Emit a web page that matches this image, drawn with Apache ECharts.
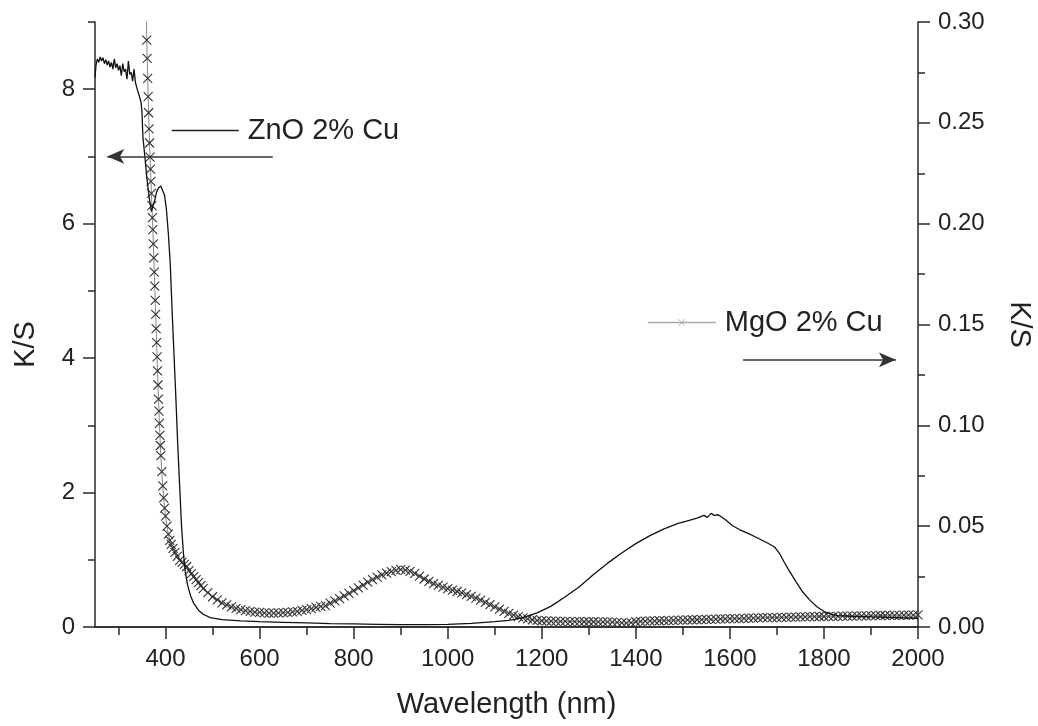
<!DOCTYPE html>
<html>
<head>
<meta charset="utf-8">
<script src="https://cdn.jsdelivr.net/npm/echarts@6.0.0/dist/echarts.min.js"></script>
<style>
  html, body { margin: 0; padding: 0; background: #ffffff; }
  #chart { width: 1038px; height: 726px; }
</style>
</head>
<body>
<div id="chart"></div>
<script>
// ---------- data ----------
const znoName = 'ZnO 2% Cu';
const mgoName = 'MgO 2% Cu';

const znoWavelength = [250,252,255,258,261,264,267,270,273,276,279,282,285,288,291,294,297,300,303,306,309,312,315,318,321,324,327,330,333,336,339,342,345,348,350,351,352,356,360,365,370,373,377,381,385,390,394,398,402,406,410,414,418,422,426,430,434,438,442,447,453,460,470,480,495,520,560,600,650,700,750,800,850,900,950,1000,1050,1100,1130,1160,1190,1220,1250,1280,1310,1340,1370,1400,1430,1460,1490,1510,1530,1545,1552,1560,1567,1575,1590,1605,1620,1640,1660,1680,1695,1705,1715,1725,1740,1755,1770,1785,1800,1815,1830,1860,1900,1950,2000];
const znoKS = [8.17,8.35,8.45,8.40,8.48,8.42,8.47,8.38,8.44,8.36,8.42,8.33,8.40,8.30,8.45,8.32,8.38,8.28,8.35,8.20,8.38,8.26,8.30,8.15,8.42,8.22,8.25,8.12,8.30,8.10,8.02,7.95,7.88,7.80,7.65,7.45,7.28,7.00,6.70,6.40,6.18,6.20,6.35,6.47,6.53,6.56,6.54,6.42,6.20,5.85,5.40,4.70,4.05,3.40,2.70,2.10,1.50,1.10,0.82,0.62,0.47,0.35,0.25,0.19,0.14,0.11,0.09,0.08,0.07,0.06,0.05,0.045,0.04,0.035,0.035,0.04,0.055,0.08,0.10,0.14,0.21,0.31,0.45,0.60,0.78,0.95,1.10,1.24,1.36,1.46,1.54,1.58,1.62,1.66,1.63,1.69,1.66,1.67,1.60,1.51,1.45,1.39,1.32,1.25,1.19,1.10,0.97,0.85,0.68,0.52,0.40,0.30,0.23,0.19,0.17,0.16,0.15,0.14,0.13];

const mgoWavelength = [358,360,361,362,363,364,365,366,367,368,369,370,371,372,373,374,375,376,377,378,379,380,381,382,383,384,385,386,387,388,389,390,392,394,396,398,400,403,406,409,412,416,420,425,430,435,440,445,450,455,460,465,470,475,480,490,500,510,520,530,540,550,560,570,580,590,600,610,620,630,640,650,660,670,680,690,700,710,720,730,740,750,760,770,780,790,800,810,820,830,840,850,860,870,880,890,900,910,920,930,940,950,960,970,980,990,1000,1010,1020,1030,1040,1050,1060,1070,1080,1090,1100,1110,1120,1130,1140,1150,1160,1170,1180,1190,1200,1210,1220,1230,1240,1250,1260,1270,1280,1290,1300,1310,1320,1330,1340,1350,1360,1370,1380,1390,1400,1410,1420,1430,1440,1450,1460,1470,1480,1490,1500,1510,1520,1530,1540,1550,1560,1570,1580,1590,1600,1610,1620,1630,1640,1650,1660,1670,1680,1690,1700,1710,1720,1730,1740,1750,1760,1770,1780,1790,1800,1810,1820,1830,1840,1850,1860,1870,1880,1890,1900,1910,1920,1930,1940,1950,1960,1970,1980,1990,2000];
const mgoKS = [0.33,0.291,0.282,0.272,0.263,0.255,0.247,0.240,0.233,0.227,0.221,0.215,0.209,0.203,0.197,0.190,0.183,0.176,0.169,0.162,0.155,0.148,0.141,0.134,0.127,0.120,0.113,0.107,0.101,0.095,0.090,0.085,0.077,0.070,0.064,0.059,0.055,0.050,0.046,0.043,0.041,0.039,0.037,0.035,0.033,0.032,0.031,0.030,0.028,0.0265,0.025,0.0235,0.022,0.0205,0.019,0.017,0.015,0.0135,0.012,0.011,0.0100,0.0092,0.0086,0.0081,0.0077,0.0074,0.0072,0.0070,0.0069,0.0069,0.0070,0.0071,0.0073,0.0075,0.0078,0.0082,0.0086,0.0091,0.0097,0.0102,0.0106,0.0118,0.0129,0.0141,0.0154,0.0167,0.0180,0.0194,0.0208,0.0222,0.0235,0.0247,0.0258,0.0267,0.0275,0.0281,0.0285,0.0282,0.0276,0.0266,0.0252,0.0238,0.0226,0.0215,0.0206,0.0198,0.0190,0.0183,0.0176,0.0169,0.0161,0.0152,0.0143,0.0133,0.0122,0.0111,0.0100,0.0089,0.0078,0.0068,0.0059,0.0051,0.0045,0.0040,0.0036,0.0033,0.0031,0.0030,0.0029,0.0029,0.0028,0.0028,0.0027,0.0027,0.0027,0.0026,0.0026,0.0026,0.0025,0.0025,0.0025,0.0024,0.0023,0.0021,0.0019,0.0022,0.0026,0.0028,0.0029,0.0030,0.0030,0.0031,0.0032,0.0032,0.0033,0.0034,0.0034,0.0035,0.0036,0.0036,0.0037,0.0038,0.0038,0.0039,0.0040,0.0040,0.0041,0.0042,0.0042,0.0043,0.0044,0.0044,0.0045,0.0046,0.0046,0.0047,0.0047,0.0048,0.0048,0.0049,0.0049,0.0050,0.0050,0.0051,0.0051,0.0052,0.0052,0.0053,0.0053,0.0053,0.0054,0.0054,0.0054,0.0055,0.0055,0.0055,0.0056,0.0056,0.0057,0.0057,0.0058,0.0058,0.0058,0.0059,0.0059,0.0059,0.0060];

// ---------- tick values ----------
const xMajorTicks = [400,600,800,1000,1200,1400,1600,1800,2000];
const xMinorTicks = [300,500,700,900,1100,1300,1500,1700,1900];
const yLeftMajorTicks = [0,2,4,6,8];
const yLeftMinorTicks = [1,3,5,7,9];
const yRightMajorTicks = [0,0.05,0.10,0.15,0.20,0.25,0.30];
const yRightMinorTicks = [0.025,0.075,0.125,0.175,0.225,0.275];

// annotation arrows (data coordinates)
const znoArrow = [[628, 7.0], [276, 7.0]];
const mgoArrow = [[1628, 0.1325], [1953, 0.1325]];

// ---------- build ----------
const zip = (xs, ys) => xs.map((x, i) => [x, ys[i]]);
const FONT = 'Liberation Sans, Arial, Helvetica, sans-serif';
const AX = '#2a2a2a';

const xBase = { type: 'value', min: 250, max: 2000, splitLine: { show: false }, gridIndex: 0 };
const yLeftBase = { type: 'value', min: 0, max: 9, splitLine: { show: false }, position: 'left' };
const yRightBase = { type: 'value', min: 0, max: 0.3, splitLine: { show: false }, position: 'right' };

const option = {
  animation: false,
  backgroundColor: '#ffffff',
  textStyle: { fontFamily: FONT },
  grid: { left: 95, right: 120, top: 22, bottom: 99, containLabel: false, outerBoundsMode: 'none' },
  legend: [
    {
      data: [znoName], left: 171, top: 116, padding: 0, selectedMode: false,
      itemWidth: 67, itemHeight: 8,
      itemStyle: { color: 'rgba(0,0,0,0)', borderColor: 'rgba(0,0,0,0)', borderWidth: 0 },
      lineStyle: { color: '#222', width: 1.5 },
      textStyle: { fontSize: 29, color: '#222', fontFamily: FONT, padding: [0, 0, 0, 4] }
    },
    {
      data: [mgoName], left: 647, top: 308, padding: 0, selectedMode: false,
      itemWidth: 68, itemHeight: 8,
      itemStyle: { color: '#aaa', borderColor: '#aaa', borderWidth: 1 },
      lineStyle: { color: '#aaa', width: 1.5 },
      textStyle: { fontSize: 29, color: '#222', fontFamily: FONT, padding: [0, 0, 0, 4] }
    }
  ],
  xAxis: [
    Object.assign({}, xBase, {
      position: 'bottom',
      name: 'Wavelength (nm)', nameLocation: 'middle', nameGap: 63,
      nameTextStyle: { fontSize: 29, color: '#222', fontFamily: FONT },
      axisLine: { show: true, lineStyle: { color: AX, width: 1.5 } },
      axisTick: { show: true, inside: false, length: 12, customValues: xMajorTicks, lineStyle: { color: AX, width: 1.5 } },
      axisLabel: { show: true, customValues: xMajorTicks, fontSize: 24, color: '#222', margin: 20, fontFamily: FONT,
        formatter: v => String(Math.round(v)) }
    }),
    Object.assign({}, xBase, {
      position: 'bottom',
      axisLine: { show: false },
      axisTick: { show: true, inside: false, length: 8, customValues: xMinorTicks, lineStyle: { color: AX, width: 1.5 } },
      axisLabel: { show: false }
    }),
    Object.assign({}, xBase, {
      position: 'top',
      axisLine: { show: true, lineStyle: { color: AX, width: 1.5 } },
      axisTick: { show: true, inside: true, length: 11, customValues: xMajorTicks, lineStyle: { color: AX, width: 1.5 } },
      axisLabel: { show: false }
    }),
    Object.assign({}, xBase, {
      position: 'top',
      axisLine: { show: false },
      axisTick: { show: true, inside: true, length: 7, customValues: xMinorTicks, lineStyle: { color: AX, width: 1.5 } },
      axisLabel: { show: false }
    })
  ],
  yAxis: [
    Object.assign({}, yLeftBase, {
      name: 'K/S', nameLocation: 'middle', nameGap: 55,
      nameTextStyle: { fontSize: 29, color: '#222', fontFamily: FONT, padding: [0, 40, 0, 0] },
      axisLine: { show: true, lineStyle: { color: AX, width: 1.5 } },
      axisTick: { show: true, inside: false, length: 12, customValues: yLeftMajorTicks, lineStyle: { color: AX, width: 1.5 } },
      axisLabel: { show: true, customValues: yLeftMajorTicks, fontSize: 24, color: '#222', margin: 20, fontFamily: FONT }
    }),
    Object.assign({}, yLeftBase, {
      axisLine: { show: false },
      axisTick: { show: true, inside: false, length: 7, customValues: yLeftMinorTicks, lineStyle: { color: AX, width: 1.5 } },
      axisLabel: { show: false }
    }),
    Object.assign({}, yRightBase, {
      name: 'K/S', nameLocation: 'middle', nameGap: 86, nameRotate: -90,
      nameTextStyle: { fontSize: 29, color: '#222', fontFamily: FONT },
      axisLine: { show: true, lineStyle: { color: AX, width: 1.5 } },
      axisTick: { show: true, inside: false, length: 12, customValues: yRightMajorTicks, lineStyle: { color: AX, width: 1.5 } },
      axisLabel: { show: true, customValues: yRightMajorTicks, fontSize: 24, color: '#222', margin: 20, fontFamily: FONT,
        formatter: v => Number(v).toFixed(2) }
    }),
    Object.assign({}, yRightBase, {
      axisLine: { show: false },
      axisTick: { show: true, inside: false, length: 7, customValues: yRightMinorTicks, lineStyle: { color: AX, width: 1.5 } },
      axisLabel: { show: false }
    })
  ],
  series: [
    {
      name: mgoName, type: 'line', xAxisIndex: 0, yAxisIndex: 2,
      data: zip(mgoWavelength, mgoKS),
      symbol: 'path://M0,0L10,10M10,0L0,10', symbolSize: 9, showSymbol: true, showAllSymbol: true,
      itemStyle: { color: '#333', borderColor: '#333', borderWidth: 1.1 },
      lineStyle: { color: '#888', width: 1 },
      emphasis: { disabled: true }, silent: true, z: 2,
      markLine: {
        silent: true, symbol: ['none', 'arrow'], symbolSize: [11, 17],
        label: { show: false },
        lineStyle: { color: '#333', width: 1.5, type: 'solid' },
        emphasis: { disabled: true },
        data: [[{ coord: mgoArrow[0] }, { coord: mgoArrow[1] }]]
      }
    },
    {
      name: znoName, type: 'line', xAxisIndex: 0, yAxisIndex: 0,
      data: zip(znoWavelength, znoKS),
      symbol: 'none', showSymbol: false,
      itemStyle: { color: '#111' },
      lineStyle: { color: '#111', width: 1.3 },
      emphasis: { disabled: true }, silent: true, z: 3,
      markLine: {
        silent: true, symbol: ['none', 'arrow'], symbolSize: [11, 17],
        label: { show: false },
        lineStyle: { color: '#333', width: 1.5, type: 'solid' },
        emphasis: { disabled: true },
        data: [[{ coord: znoArrow[0] }, { coord: znoArrow[1] }]]
      }
    }
  ]
};

const chart = echarts.init(document.getElementById('chart'), null, { renderer: 'canvas' });
chart.setOption(option);
</script>
</body>
</html>
